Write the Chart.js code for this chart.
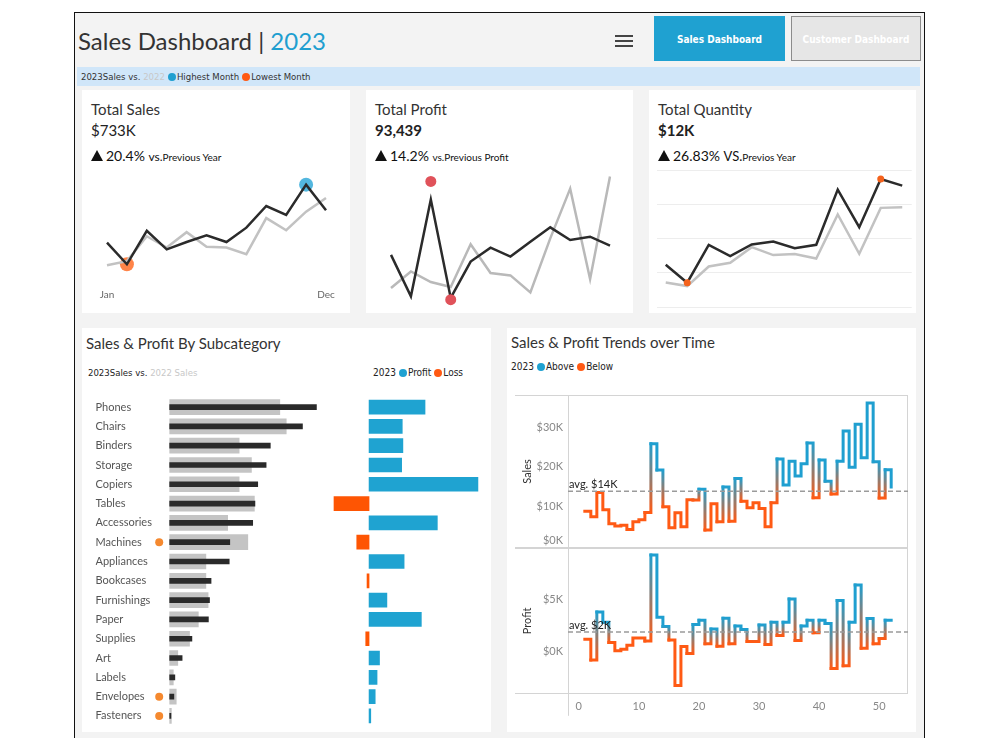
<!DOCTYPE html>
<html>
<head>
<meta charset="utf-8">
<script src="https://cdn.jsdelivr.net/npm/chart.js@4.4.0/dist/chart.umd.min.js"></script>
<style>
  body { margin: 0; width: 1000px; height: 750px; background: #fff; position: relative; overflow: hidden; font-family: Lato, "Open Sans", sans-serif; color: #333; }
  .abs { position: absolute; white-space: nowrap; }
  .narrow { font-family: "Liberation Sans Narrow", "DejaVu Sans Condensed", Roboto, sans-serif; }
  #frame { left: 74px; top: 12px; width: 851px; height: 726px; background: #f3f3f3; border: 1.5px solid #111; border-bottom: none; box-sizing: border-box; }
  .card { position: absolute; background: #fff; }
  .dot { display: inline-block; width: 8px; height: 8px; border-radius: 50%; vertical-align: -1px; margin: 0 1px 0 3px; }
  .tri { display: inline-block; width: 0; height: 0; border-left: 6px solid transparent; border-right: 6px solid transparent; border-bottom: 11px solid #111; margin-right: 3px; vertical-align: 0; }
  canvas { position: absolute; }
  .kpi-title { font-size: 15px; line-height: 18px; color: #333; }
  .kpi-val { font-size: 15px; line-height: 18px; color: #222; }
  .kpi-chg { font-size: 14px; line-height: 17px; color: #111; }
</style>
</head>
<body>
<div id="frame" class="abs"></div>

<!-- header -->
<div class="abs" style="left:78px;top:26px;font-size:24px;line-height:29px;color:#333">Sales Dashboard | <span style="color:#1f9fd0">2023</span></div>
<div class="abs" style="left:615px;top:35px;width:18px;height:2px;background:#444"></div>
<div class="abs" style="left:615px;top:40px;width:18px;height:2px;background:#444"></div>
<div class="abs" style="left:615px;top:45px;width:18px;height:2px;background:#444"></div>
<div class="abs narrow" style="left:654px;top:16px;width:131px;height:45px;background:#1fa1d1;color:#fff;font-size:10px;font-weight:bold;text-align:center;line-height:48px">Sales Dashboard</div>
<div class="abs narrow" style="left:791px;top:16px;width:130px;height:45px;background:#e6e6e6;border:1px solid #8c8c8c;box-sizing:border-box;color:#fff;font-size:10px;font-weight:bold;text-align:center;line-height:46px">Customer Dashboard</div>
<div class="abs narrow" style="left:77px;top:67px;width:843px;height:19px;background:#d0e6f9;font-size:9.5px;line-height:19px;color:#333;padding-left:4px;box-sizing:border-box">2023Sales vs. <span style="color:#c8c8c8">2022</span><span class="dot" style="background:#1f9fd0"></span>Highest Month<span class="dot" style="background:#ff5a14"></span>Lowest Month</div>

<!-- KPI cards -->
<div class="card" style="left:82px;top:90px;width:268px;height:223px"></div>
<div class="card" style="left:366px;top:90px;width:267px;height:223px"></div>
<div class="card" style="left:649px;top:90px;width:267px;height:223px"></div>

<div class="abs kpi-title" style="left:91px;top:100px">Total Sales</div>
<div class="abs kpi-val" style="left:91px;top:121px">$733K</div>
<div class="abs kpi-chg" style="left:91px;top:147px"><span class="tri"></span>20.4% <span style="font-size:12px">vs.</span><span style="font-size:10px">Previous Year</span></div>

<div class="abs kpi-title" style="left:375px;top:100px">Total Profit</div>
<div class="abs kpi-val" style="left:375px;top:121px;font-weight:bold">93,439</div>
<div class="abs kpi-chg" style="left:375px;top:147px"><span class="tri"></span>14.2% <span style="font-size:10px">vs.Previous Profit</span></div>

<div class="abs kpi-title" style="left:658px;top:100px">Total Quantity</div>
<div class="abs kpi-val" style="left:658px;top:121px;font-weight:bold">$12K</div>
<div class="abs kpi-chg" style="left:658px;top:147px"><span class="tri"></span>26.83% <span style="font-size:13px">VS.</span><span style="font-size:10px">Previos Year</span></div>

<canvas id="salesSpark" width="268" height="141" style="left:82px;top:165px"></canvas>
<canvas id="profitSpark" width="267" height="147" style="left:366px;top:165px"></canvas>
<canvas id="qtySpark" width="267" height="147" style="left:649px;top:165px"></canvas>

<!-- bottom panels -->
<div class="card" style="left:82px;top:328px;width:409px;height:404px"></div>
<div class="card" style="left:507px;top:328px;width:409px;height:404px"></div>

<div class="abs" style="left:86px;top:334px;font-size:15px;line-height:18px;color:#333">Sales &amp; Profit By Subcategory</div>
<div class="abs narrow" style="left:88px;top:367px;font-size:9.5px;line-height:12px;color:#222">2023Sales vs. <span style="color:#c8c8c8">2022 Sales</span></div>
<div class="abs narrow" style="left:373px;top:367px;font-size:10px;line-height:12px;color:#222">2023<span class="dot" style="background:#1fa1d1"></span>Profit<span class="dot" style="background:#ff5a14"></span>Loss</div>

<div class="abs" style="left:511px;top:333px;font-size:15px;line-height:18px;color:#333">Sales &amp; Profit Trends over Time</div>
<div class="abs narrow" style="left:511px;top:361px;font-size:10px;line-height:12px;color:#222">2023<span class="dot" style="background:#1fa1d1"></span>Above<span class="dot" style="background:#ff5a14"></span>Below</div>

<canvas id="subSales" width="258" height="340" style="left:82px;top:390px"></canvas>
<canvas id="subProfit" width="163" height="340" style="left:326px;top:390px"></canvas>
<canvas id="trendSales" width="409" height="158" style="left:507px;top:390px"></canvas>
<canvas id="trendProfit" width="409" height="180" style="left:507px;top:545px"></canvas>

<script>
// ---- data ----
const months = ['Jan', 'Feb', 'Mar', 'Apr', 'May', 'Jun', 'Jul', 'Aug', 'Sep', 'Oct', 'Nov', 'Dec'];
const sales2023 = [46.9, 20.3, 61.5, 38.7, 47.7, 55.9, 47.7, 65.4, 92.1, 81.1, 118.4, 87.0];
const sales2022 = [19.1, 24.2, 54.8, 41.0, 59.9, 41.9, 41.0, 32.8, 77.2, 62.2, 85.1, 101.9];
const profit2023 = [6.98, 1.15, 14.75, 0.93, 6.04, 8.0, 6.74, 8.84, 10.85, 9.07, 9.53, 8.28];
const profit2022 = [2.33, 4.65, 3.16, 2.47, 8.47, 4.42, 4.09, 1.71, 9.3, 16.29, 3.58, 18.01];
const profitHighDot = 17.3; // the high marker sits above the March peak
const qty2023 = [605, 354, 884, 726, 888, 930, 837, 884, 1656, 1130, 1804, 1711];
const qty2022 = [358, 307, 581, 633, 851, 740, 754, 693, 1307, 758, 1400, 1409];

const subcats = ['Phones', 'Chairs', 'Binders', 'Storage', 'Copiers', 'Tables', 'Accessories', 'Machines', 'Appliances',
  'Bookcases', 'Furnishings', 'Paper', 'Supplies', 'Art', 'Labels', 'Envelopes', 'Fasteners'];
const subSales2023 = [105, 95, 72, 69, 63, 61, 59.4, 43, 42.6, 29.6, 28.5, 27.7, 15.9, 8.9, 3.7, 3.0, 0.9];
const subSales2022 = [78.8, 83.4, 49.7, 58.5, 49.7, 60.6, 41.5, 55.9, 25.9, 25.9, 27.5, 20.5, 14.2, 5.8, 2.6, 4.7, 1.2];
const subProfit2023 = [9.1, 5.4, 5.5, 5.3, 17.7, -5.7, 11.1, -2.0, 5.7, -0.33, 2.9, 8.5, -0.54, 1.7, 1.3, 1.0, 0.28];

const weeks = [1, 2, 3, 4, 5, 6, 7, 8, 9, 10, 11, 12, 13, 14, 15, 16, 17, 18, 19, 20, 21, 22, 23, 24, 25, 26,
  27, 28, 29, 30, 31, 32, 33, 34, 35, 36, 37, 38, 39, 40, 41, 42, 43, 44, 45, 46, 47, 48, 49, 50, 51, 52];
const weeklySales = [8.9, 7.5, 13.6, 9.3, 5.8, 5.2, 5.4, 4.3, 6.3, 6.75, 8.6, 25.8, 19.2, 10.0, 4.8, 8.5, 5.0, 11.8,
  11.7, 14.4, 4.2, 10.8, 6.25, 15.0, 6.4, 17.1, 11.4, 9.8, 11.0, 9.6, 5.0, 11.0, 22.0, 15.5, 21.4, 17.7, 20.8, 26.0,
  12.25, 21.7, 16.4, 13.2, 21.4, 29.0, 19.9, 30.7, 22.3, 36.0, 21.3, 12.2, 19.3, 15.0];
const weeklyProfit = [1.17, -0.83, 3.8, 2.8, 0.86, 0.06, 0.2, 0.6, 1.3, 1.3, 1.0, 9.3, 3.3, 2.4, 1.1, -3.3, 0.46, -0.2,
  2.6, 3.0, 0.74, 2.15, 0.5, 3.2, 0.74, 2.45, 2.1, 0.95, 0.95, 2.55, 0.67, 2.8, 1.53, 2.8, 5.06, 1.04, 2.45, 3.0,
  1.8, 3.0, 2.7, -1.66, 4.9, -1.4, 2.8, 6.4, 0.3, 3.16, 0.74, 1.23, 3.0, 3.0];
const weekTicks = [0, 10, 20, 30, 40, 50];

const BLUE = '#1f9fd0';
const ORANGE = '#ff5a14';

Chart.defaults.font.family = 'Lato, "Open Sans", sans-serif';
Chart.defaults.animation = false;
Chart.defaults.responsive = false;
Chart.defaults.events = [];
Chart.defaults.plugins.legend.display = false;
Chart.defaults.plugins.tooltip.enabled = false;

const argMin = arr => arr.indexOf(Math.min(...arr));
const argMax = arr => arr.indexOf(Math.max(...arr));
const onlyAt = (arr, idx, val) => arr.map((v, i) => (i === idx ? (val !== undefined ? val : v) : null));
// keep tick labels from pushing the plot area inwards
const noEdgePad = width => s => {
  if (width !== undefined) s.width = width;
  s.paddingTop = 0;
  s.paddingBottom = 0;
};

// ---- KPI sparkline: sales ----
new Chart(document.getElementById('salesSpark'), {
  type: 'line',
  data: {
    labels: months,
    datasets: [
      { data: sales2023, borderColor: '#2b2b2b', borderWidth: 2.5, pointRadius: 0, order: 1 },
      { data: sales2022, borderColor: '#c2c2c2', borderWidth: 2.5, pointRadius: 0, order: 2 },
      { data: onlyAt(sales2023, argMax(sales2023)), showLine: false, pointRadius: 7, pointBorderWidth: 0,
        pointBackgroundColor: 'rgba(40,165,215,0.8)', order: 3 },
      { data: onlyAt(sales2023, argMin(sales2023)), showLine: false, pointRadius: 7, pointBorderWidth: 0,
        pointBackgroundColor: 'rgba(255,110,40,0.85)', order: 3 }
    ]
  },
  options: {
    layout: { padding: { left: 25, right: 24, top: 7, bottom: 0 } },
    scales: {
      x: {
        grid: { display: false, drawTicks: false }, border: { display: false },
        ticks: { autoSkip: false, maxRotation: 0, padding: 5, color: '#666', font: { size: 10 },
          callback: (v, i) => (i === 0 || i === months.length - 1 ? months[i] : '') }
      },
      y: { display: false, min: -4, max: 134 }
    }
  }
});

// ---- KPI sparkline: profit ----
new Chart(document.getElementById('profitSpark'), {
  type: 'line',
  data: {
    labels: months,
    datasets: [
      { data: profit2023, borderColor: '#2b2b2b', borderWidth: 2.5, pointRadius: 0, order: 1 },
      { data: profit2022, borderColor: '#b9b9b9', borderWidth: 2.5, pointRadius: 0, order: 2 },
      { data: onlyAt(profit2023, argMax(profit2023), profitHighDot), showLine: false, pointRadius: 5.5,
        pointBorderWidth: 0, pointBackgroundColor: '#e0525a', order: 0 },
      { data: onlyAt(profit2023, argMin(profit2023), profit2023[argMin(profit2023)] - 0.25), showLine: false,
        pointRadius: 5.5, pointBorderWidth: 0, pointBackgroundColor: '#e0525a', order: 0 }
    ]
  },
  options: {
    layout: { padding: { left: 25, right: 23, top: 5, bottom: 5 } },
    scales: { x: { display: false }, y: { display: false, min: -0.28, max: 18.84 } }
  }
});

// ---- KPI sparkline: quantity ----
const toXY = arr => arr.map((v, i) => ({ x: i + 1, y: v }));
new Chart(document.getElementById('qtySpark'), {
  type: 'line',
  data: {
    datasets: [
      { data: toXY(qty2023), borderColor: '#2b2b2b', borderWidth: 2.5, pointRadius: 0, order: 1 },
      { data: toXY(qty2022), borderColor: '#c2c2c2', borderWidth: 2.5, pointRadius: 0, order: 2 },
      { data: [argMin(qty2023), argMax(qty2023)].map(i => ({ x: i + 1, y: qty2023[i] })), showLine: false,
        pointRadius: 3.5, pointBorderWidth: 0, pointBackgroundColor: '#f4621c', order: 0 }
    ]
  },
  options: {
    layout: { padding: { left: 7.7, right: 4.3, top: 5, bottom: 5 } },
    scales: {
      x: { type: 'linear', display: false, min: 0.58, max: 12.44 },
      y: {
        min: 15, max: 1929, afterFit: noEdgePad(0),
        ticks: { display: false, stepSize: 500, includeBounds: false },
        grid: { color: '#ededed', drawTicks: false }, border: { display: false }
      }
    }
  }
});

// ---- subcategory sales (2023 vs 2022) ----
const lowerThanLastYear = subSales2023.map((v, i) => (v < subSales2022[i] ? -7.5 : null));
new Chart(document.getElementById('subSales'), {
  type: 'bar',
  data: {
    labels: subcats,
    datasets: [
      { data: subSales2022, backgroundColor: '#c4c4c4', barThickness: 15, grouped: false, order: 2 },
      { data: subSales2023, backgroundColor: '#2a2a2a', barThickness: 5, grouped: false, order: 1 },
      { type: 'line', data: lowerThanLastYear, showLine: false, pointRadius: 4, pointBorderWidth: 0,
        pointBackgroundColor: '#f5892f', clip: false, order: 0 }
    ]
  },
  options: {
    indexAxis: 'y',
    layout: { padding: { left: 13.5, right: 0, top: 7.4, bottom: 4.4 } },
    scales: {
      x: { display: false, min: -9, max: 119 },
      y: {
        afterFit: noEdgePad(61.6),
        grid: { display: false }, border: { display: false },
        ticks: { crossAlign: 'far', color: '#555', font: { size: 11 }, padding: 0 }
      }
    }
  }
});

// ---- subcategory profit ----
new Chart(document.getElementById('subProfit'), {
  type: 'bar',
  data: {
    labels: subcats,
    datasets: [{
      data: subProfit2023, barThickness: 14,
      backgroundColor: subProfit2023.map(v => (v < 0 ? '#fe5503' : '#1fa3d1'))
    }]
  },
  options: {
    indexAxis: 'y',
    layout: { padding: { left: 0, right: 0, top: 7.4, bottom: 4.4 } },
    scales: { x: { display: false, min: -7, max: 19.5 }, y: { display: false } }
  }
});

// ---- weekly trend charts ----
function average(arr) { return arr.reduce((a, b) => a + b, 0) / arr.length; }

function stepSegmentColor(values, avg) {
  const col = v => (v > avg ? BLUE : ORANGE);
  return ctx => {
    const c0 = col(values[ctx.p0DataIndex]);
    const c1 = col(values[ctx.p1DataIndex]);
    if (c0 === c1 || ctx.p0.y === ctx.p1.y) return c0;
    const g = ctx.chart.ctx.createLinearGradient(0, ctx.p0.y, 0, ctx.p1.y);
    g.addColorStop(0, c0);
    g.addColorStop(1, c1);
    return g;
  };
}

const trendFrame = {
  id: 'trendFrame',
  beforeDatasetsDraw(chart, args, opts) {
    const { ctx, chartArea: a } = chart;
    ctx.save();
    ctx.strokeStyle = '#d4d4d4';
    ctx.lineWidth = 1;
    ctx.beginPath();
    ctx.moveTo(a.left - 53, Math.round(a.top) + 0.5); ctx.lineTo(a.right, Math.round(a.top) + 0.5);
    ctx.moveTo(a.left - 53, Math.round(a.bottom) - 0.5); ctx.lineTo(a.right, Math.round(a.bottom) - 0.5);
    ctx.moveTo(Math.round(a.right) - 0.5, a.top); ctx.lineTo(Math.round(a.right) - 0.5, a.bottom);
    ctx.moveTo(Math.round(a.left) + 0.5, a.top); ctx.lineTo(Math.round(a.left) + 0.5, a.bottom + (opts.extend || 0));
    ctx.stroke();
    ctx.restore();
  },
  afterDatasetsDraw(chart, args, opts) {
    const { ctx, chartArea: a } = chart;
    const y = chart.scales.y.getPixelForValue(opts.avg);
    ctx.save();
    ctx.strokeStyle = '#9b9b9b';
    ctx.lineWidth = 1.5;
    ctx.setLineDash([5, 3]);
    ctx.beginPath(); ctx.moveTo(a.left, y); ctx.lineTo(a.right, y); ctx.stroke();
    ctx.setLineDash([]);
    ctx.fillStyle = '#222';
    ctx.font = '11px Lato, "Open Sans", sans-serif';
    ctx.textBaseline = 'bottom';
    ctx.fillText(opts.label, a.left + 1, y - 1);
    ctx.restore();
  }
};

function trendChart(id, values, yMin, yMax, yStep, title, showX, padTop, padBottom, extend, liftZero) {
  const avg = average(values);
  return new Chart(document.getElementById(id), {
    type: 'line',
    data: {
      datasets: [{
        data: values.map((v, i) => ({ x: weeks[i], y: v })),
        stepped: true, borderWidth: 3, pointRadius: 0,
        borderCapStyle: 'square', borderJoinStyle: 'miter', borderColor: BLUE,
        segment: { borderColor: stepSegmentColor(values, avg) }
      }]
    },
    options: {
      layout: { padding: { left: 0, right: 8, top: padTop, bottom: padBottom } },
      plugins: { trendFrame: { avg: avg, label: 'avg. $' + Math.round(avg) + 'K', extend: extend } },
      scales: {
        x: {
          type: 'linear', display: showX, min: -1.8, max: 54.8,
          grid: { display: false, drawTicks: false }, border: { display: false },
          afterBuildTicks: s => { s.ticks = weekTicks.map(v => ({ value: v })); },
          ticks: { color: '#888', font: { size: 11 }, padding: 6 }
        },
        y: {
          min: yMin, max: yMax,
          afterFit: noEdgePad(61),
          grid: { display: false, drawTicks: false }, border: { display: false },
          ticks: { stepSize: yStep, includeBounds: false, color: '#888', font: { size: 11 }, padding: 5,
            // the bottom label sits just above the pane edge, as in the reference
            callback: v => (liftZero && v === 0 ? ['$0K', ''] : '$' + v + 'K') },
          title: { display: true, text: title, color: '#333', font: { size: 11 }, padding: { top: 14, bottom: 0 } }
        }
      }
    },
    plugins: [trendFrame]
  });
}

trendChart('trendSales', weeklySales, -0.3, 38, 10, 'Sales', false, 5, 0, 0, true);
trendChart('trendProfit', weeklyProfit, -4.1, 9.98, 5, 'Profit', true, 3, 6, 22, false);
</script>
</body>
</html>
